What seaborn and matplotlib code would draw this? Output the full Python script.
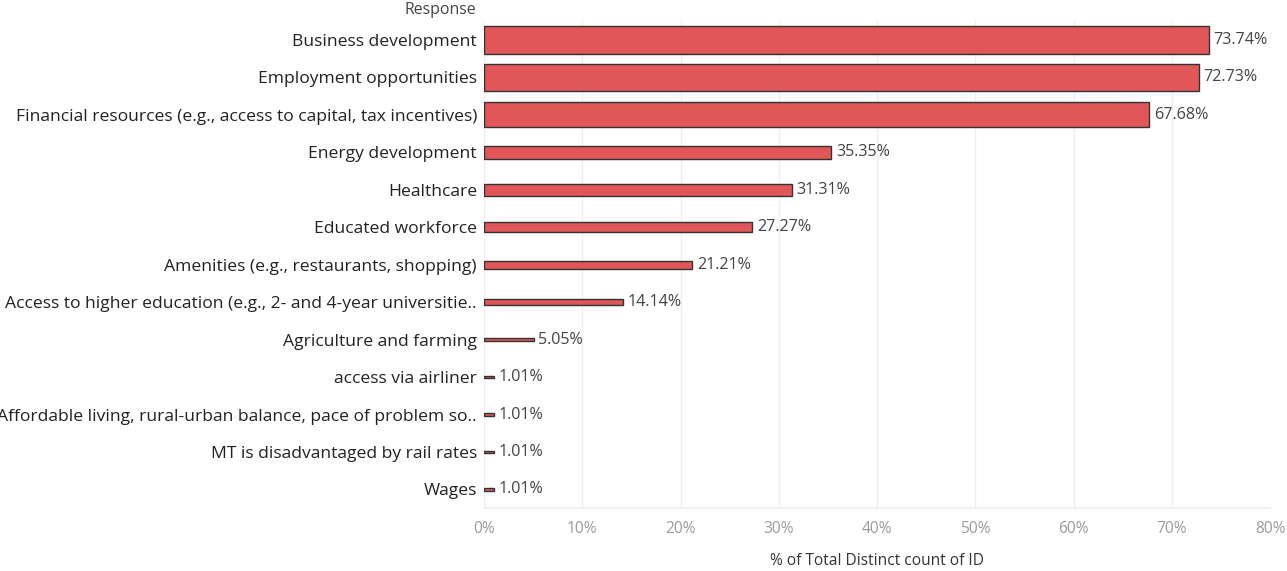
import matplotlib
matplotlib.use("Agg")
import matplotlib.pyplot as plt
import seaborn as sns
import pandas as pd
from matplotlib.ticker import FuncFormatter, MultipleLocator

responses = [
    "Business development",
    "Employment opportunities",
    "Financial resources (e.g., access to capital, tax incentives)",
    "Energy development",
    "Healthcare",
    "Educated workforce",
    "Amenities (e.g., restaurants, shopping)",
    "Access to higher education (e.g., 2- and 4-year universitie..",
    "Agriculture and farming",
    "access via airliner",
    "Affordable living, rural-urban balance, pace of problem so..",
    "MT is disadvantaged by rail rates",
    "Wages",
]
pct_values = [73.74, 72.73, 67.68, 35.35, 31.31, 27.27, 21.21, 14.14, 5.05, 1.01, 1.01, 1.01, 1.01]

df = pd.DataFrame({"Response": responses, "Pct": pct_values})

sns.set_theme(style="white")
plt.rcParams["font.family"] = ["Open Sans", "DejaVu Sans"]

fig = plt.figure(figsize=(12.87, 5.71), dpi=100)
ax = fig.add_axes([0.376, 0.110, 0.611, 0.853])

sns.barplot(data=df, x="Pct", y="Response", orient="h", color="#E15759",
            saturation=1, edgecolor="#333333", linewidth=1.0, ax=ax)

# Bar thickness encodes the value as well (fraction of the row band),
# with a small minimum so tiny bars stay visible
for patch, val in zip(ax.patches, df["Pct"]):
    yc = patch.get_y() + patch.get_height() / 2
    h = max(val / 100.0, 0.075)
    patch.set_height(h)
    patch.set_y(yc - h / 2)
    ax.text(val + 0.5, yc, f"{val:.2f}%", va="center", ha="left",
            fontsize=11.6, color="#444444")

ax.set_xlim(0, 80)
ax.set_ylim(len(responses) - 0.5, -0.5)
ax.xaxis.set_major_locator(MultipleLocator(10))
ax.xaxis.set_major_formatter(FuncFormatter(lambda v, p: f"{v:.0f}%"))
ax.grid(axis="x", color="#efefef", linewidth=1)
ax.set_axisbelow(True)
for side in ["top", "right", "left"]:
    ax.spines[side].set_visible(False)
ax.spines["bottom"].set_color("#f0f0f0")

ax.tick_params(axis="x", labelsize=11.2, labelcolor="#9a9a9a", length=0, pad=9)
ax.tick_params(axis="y", labelsize=12.6, labelcolor="#222222", length=0, pad=5)
ax.set_xlabel("% of Total Distinct count of ID", fontsize=11.2, color="#333333", labelpad=12)
ax.set_ylabel("")
fig.text(476 / 1287, 1 - 10 / 571, "Response", ha="right", va="center",
         fontsize=11.4, color="#444444")

fig.savefig("out.png", dpi=100)
